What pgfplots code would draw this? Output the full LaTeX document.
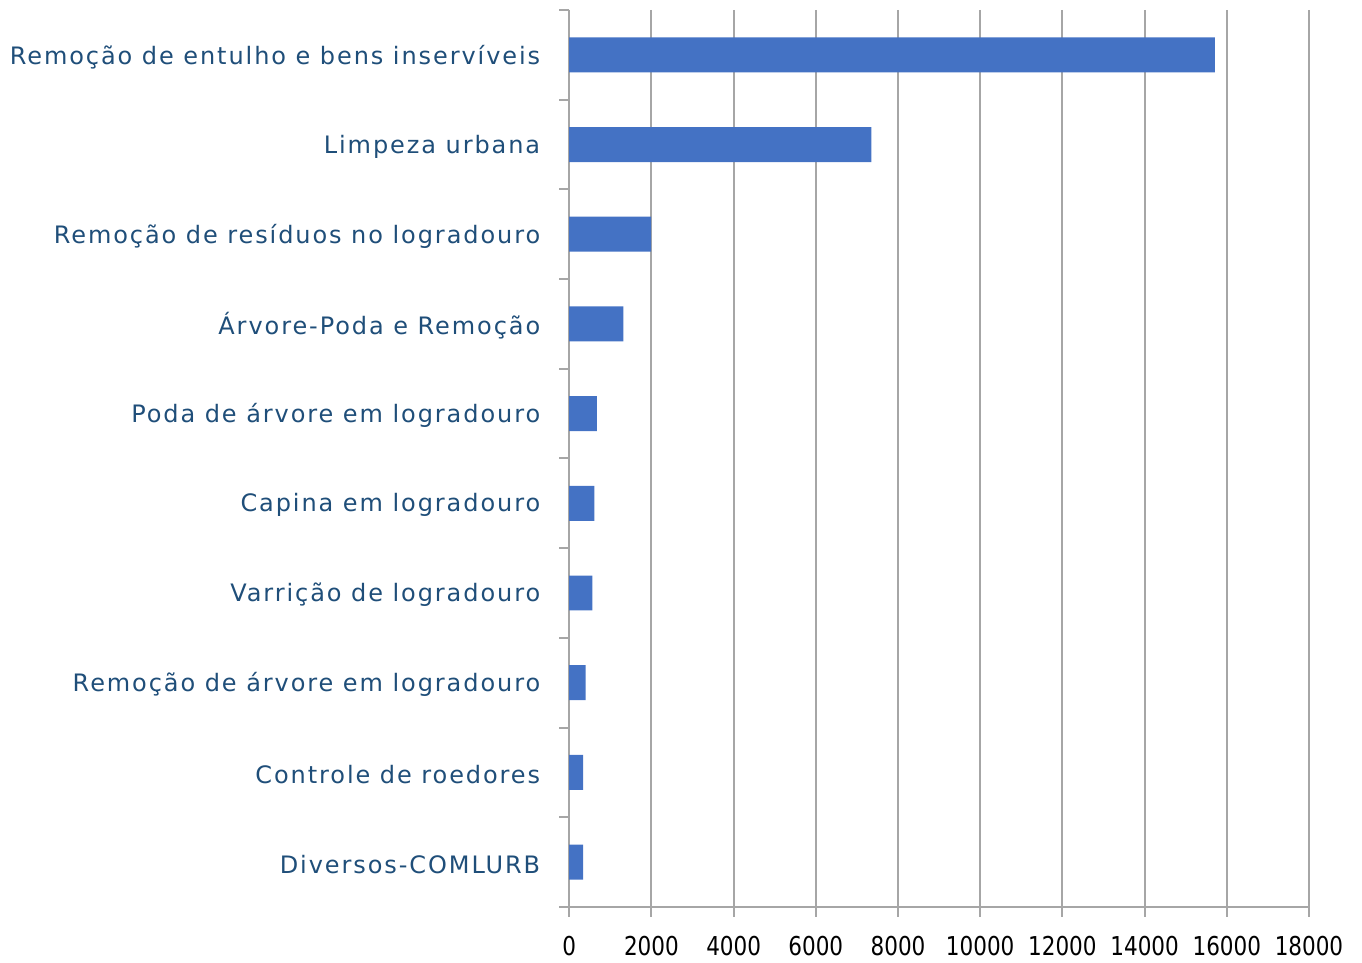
\documentclass[border=0pt]{standalone}
\usepackage{fontspec}
\setmainfont[LetterSpace=8]{DejaVu Sans}
\newfontfamily\tickfont[FakeStretch=0.92]{DejaVu Sans Condensed}
\usepackage{pgfplots}
\pgfplotsset{compat=1.18}
\definecolor{barblue}{HTML}{4472C4}
\definecolor{labblue}{HTML}{1F4E79}
\definecolor{gridgray}{HTML}{A6A6A6}
\begin{document}
\begin{tikzpicture}
\path (-284.65pt,-27.5pt) rectangle (396.4pt,453.5pt);
\begin{axis}[
  at={(0,0)}, anchor=south west,
  scale only axis, width=369.9pt, height=448.5pt,
  xbar, bar width=0.39, y dir=reverse,
  xmin=0, xmax=18000, ymin=-0.5, ymax=9.5,
  axis x line*=bottom, axis y line*=left,
  axis line style={gridgray, line width=1pt, -},
  xtick={0,2000,...,18000},
  xmajorgrids, major grid style={gridgray, line width=1pt},
  ytick={0,...,9},
  yticklabels={Remoção de entulho e bens inservíveis, Limpeza urbana, Remoção de resíduos no logradouro, Árvore-Poda e Remoção, Poda de árvore em logradouro, Capina em logradouro, Varrição de logradouro, Remoção de árvore em logradouro, Controle de roedores, Diversos-COMLURB},
  minor ytick={-0.5,0.5,...,9.5},
  tick align=outside, major tick length=5pt, minor tick length=5pt,
  major y tick style={draw=none},
  minor y tick style={gridgray, line width=1pt},
  major x tick style={gridgray, line width=1pt},
  scaled x ticks=false,
  /pgf/number format/assume math mode=true,
  /pgf/number format/1000 sep={},
  xticklabel style={font=\tickfont\fontsize{13}{13}\selectfont, black},
  yticklabel style={font=\fontsize{12}{14}\selectfont, labblue, yshift=-1pt},
  yticklabel shift=6pt,
  xticklabel shift=6pt,
]
\addplot[fill=barblue, draw=none] coordinates {
  (15710,0) (7350,1) (1995,2) (1315,3) (670,4) (610,5) (560,6) (400,7) (340,8) (340,9)
};
\end{axis}
\end{tikzpicture}
\end{document}
